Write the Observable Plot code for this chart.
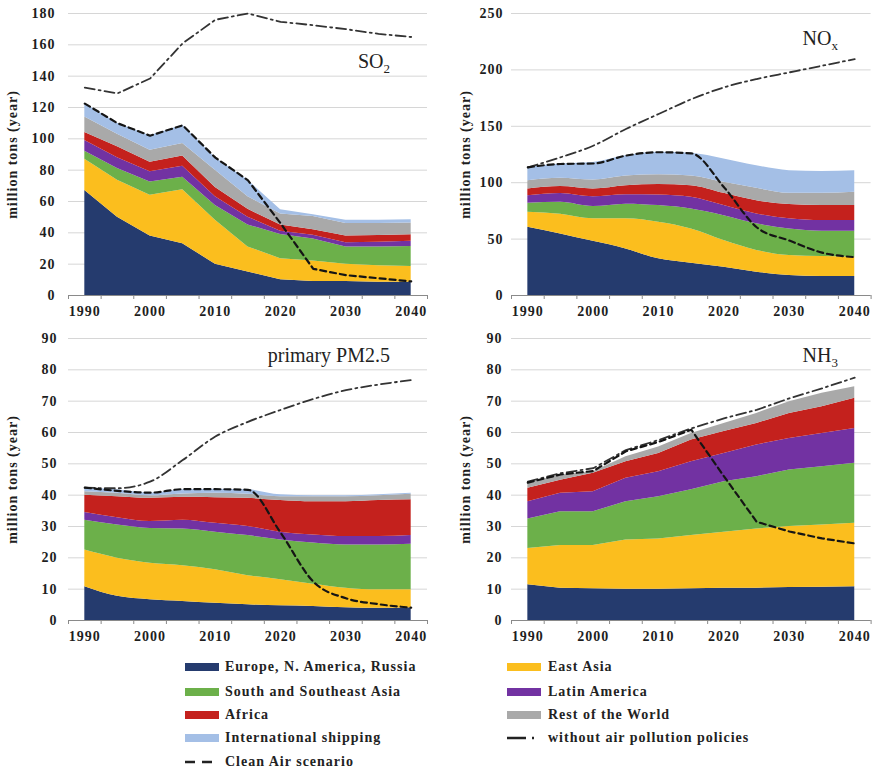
<!DOCTYPE html>
<html>
<head>
<meta charset="utf-8">
<script src="https://cdn.jsdelivr.net/npm/d3@7"></script>
<script src="https://cdn.jsdelivr.net/npm/@observablehq/plot@0.6"></script>
<style>
  body { margin: 0; background: #fff; }
  #chart { position: relative; width: 875px; height: 770px; font-family: "Liberation Serif", "Times New Roman", serif; color: #1e1e1e; }
  .panel { position: absolute; }
  .title { position: absolute; font-size: 20px; line-height: 20px; white-space: nowrap; text-align: right; color: #222; }
  .title sub { font-size: 13px; line-height: 0; vertical-align: -5px; }
  .legend-item { position: absolute; height: 20px; display: flex; align-items: center; font-size: 14px; font-weight: bold; letter-spacing: 1px; color: #222; white-space: nowrap; }
  .sw { position: absolute; height: 8px; width: 34px; }
</style>
</head>
<body>
<div id="chart"></div>
<script>
// Years shown on every panel (5-year steps)
const years = [1990, 1995, 2000, 2005, 2010, 2015, 2020, 2025, 2030, 2035, 2040];
const labelYears = [1990, 2000, 2010, 2020, 2030, 2040];
const tickYears = [1987.5, 1992.5, 1997.5, 2002.5, 2007.5, 2012.5, 2017.5, 2022.5, 2027.5, 2032.5, 2037.5, 2042.5];

// Regions, bottom to top of each stack
const regions = ["Europe, N. America, Russia", "East Asia", "South and Southeast Asia", "Latin America", "Africa", "Rest of the World", "International shipping"];
const regionColors = ["#253b6e", "#fbbe1e", "#6cb04a", "#7232a2", "#c4211d", "#a9a9a9", "#a4bfe6"];

// SO2 emissions, million tons per year
const so2Europe    = [67, 50, 38, 33, 20, 15, 10, 9, 9, 8.5, 8.5];
const so2EastAsia  = [20, 23.5, 26, 34.5, 28, 16, 13.5, 13, 11, 10.5, 10];
const so2SouthAsia = [5, 7.5, 8.5, 8, 9.5, 14, 15.5, 14, 11, 12, 12.8];
const so2LatAm     = [7, 7, 6.5, 7, 5.5, 5, 2, 2.5, 2.7, 3, 3.4];
const so2Africa    = [5, 7, 6, 6.5, 6, 5, 4, 3.5, 4.3, 4.3, 4.1];
const so2Rest      = [10, 8, 7.7, 8, 11, 8, 7, 8.5, 8, 7.7, 7.4];
const so2Shipping  = [8.5, 7, 9.3, 11.6, 8, 10.5, 2.7, 1, 2, 2, 2.2];
const so2Clean     = [122.5, 110, 102, 108.6, 88, 73.5, 46, 17, 13, 11, 9];
const so2NoPolicy  = [132.7, 129, 138.5, 161, 176, 180, 174.7, 172.5, 170, 167, 165];

// NOx emissions
const noxEurope    = [60.5, 54.6, 48, 41.3, 32.5, 28.6, 25, 20.7, 17.7, 16.8, 16.8];
const noxEastAsia  = [13.3, 17.4, 20, 26.7, 32.5, 30.4, 23.7, 19.3, 17.7, 17.7, 17.2];
const noxSouthAsia = [8, 10.6, 10.8, 13, 14.7, 17.7, 22.1, 23.5, 23.6, 22.5, 23];
const noxLatAm     = [6.7, 7.9, 8.8, 8.4, 9.3, 10.3, 8.9, 8.8, 9, 9.4, 9.4];
const noxAfrica    = [6, 6.1, 6.9, 8, 9.3, 10.4, 10.9, 11.7, 12.6, 13.3, 13.3];
const noxRest      = [7.3, 7.4, 7.9, 8.6, 8.7, 8.6, 9.7, 11, 10, 10.9, 11.8];
const noxShipping  = [11.8, 12.6, 15.6, 18, 20, 20, 20.7, 20, 20.1, 19.4, 19.2];
const noxClean     = [113.6, 116.6, 117, 124, 127, 126, 96, 60.5, 48.7, 38, 34];
const noxNoPolicy  = [113.6, 122.5, 132.8, 147.6, 160.9, 174, 184.5, 191.9, 197.8, 203.7, 209.6];

// Primary PM2.5 emissions
const pmEurope    = [10.8, 7.7, 6.6, 6.1, 5.5, 5, 4.7, 4.5, 4.1, 3.9, 4.1];
const pmEastAsia  = [11.7, 12.2, 11.7, 11.4, 10.7, 9.3, 8.3, 7.1, 6.2, 5.9, 5.7];
const pmSouthAsia = [9.5, 10.6, 11.1, 11.7, 12, 12.8, 12.7, 13.1, 13.8, 14.3, 14.5];
const pmLatAm     = [2.5, 2.3, 2.2, 2.8, 2.8, 2.9, 2.5, 2.6, 2.7, 2.7, 2.8];
const pmAfrica    = [5.5, 6.7, 7.4, 7.3, 8.2, 9, 10.1, 10.6, 11.1, 11.5, 11.4];
const pmRest      = [1.1, 1.1, 0.8, 1.1, 1.4, 1.3, 1.2, 1.6, 1.6, 1.5, 1.8];
const pmShipping  = [1.3, 1.1, 0.8, 1.3, 1.3, 1.4, 0.6, 0.3, 0.3, 0.3, 0.3];
const pmClean     = [42.4, 41.4, 40.8, 41.9, 41.9, 41.7, 28, 12.4, 7.1, 5.2, 4.1];
const pmNoPolicy  = [42.4, 42.2, 44.3, 51.2, 58.7, 63.4, 67.2, 70.7, 73.5, 75.3, 76.7];

// NH3 emissions
const nh3Europe    = [11.4, 10.3, 10.1, 10, 10, 10.1, 10.3, 10.3, 10.5, 10.6, 10.8];
const nh3EastAsia  = [11.6, 13.6, 13.8, 15.7, 16, 17, 17.9, 18.9, 19.5, 19.9, 20.2];
const nh3SouthAsia = [9.4, 10.8, 10.8, 12.2, 13.5, 14.6, 16.1, 16.7, 18, 18.6, 19.2];
const nh3LatAm     = [5.5, 5.9, 6.4, 7.5, 8, 9, 9, 10.1, 10.1, 10.6, 11.1];
const nh3Africa    = [4.3, 4.2, 5.9, 5.3, 5.8, 6.9, 7, 6.9, 8, 8.5, 9.6];
const nh3Rest      = [1.6, 1.6, 0.5, 1.6, 2.1, 2.1, 2.6, 3.2, 3.7, 4.3, 3.7];
const nh3Shipping  = [0, 0, 0, 0, 0, 0, 0, 0, 0, 0, 0];
const nh3Clean     = [44, 46.6, 47.7, 54, 57, 60.9, 46, 31.5, 28.4, 26.2, 24.6];
const nh3NoPolicy  = [44.3, 47, 48.6, 54.4, 57.6, 61.3, 64.5, 67.2, 70.9, 74.1, 77.5];

const serif = '"Liberation Serif", "Times New Roman", serif';
const chart = document.getElementById("chart");

function drawPanel({left, top, width, marginLeft, marginRight, series, clean, noPolicy, yMax, yStep, tickPadding, labelOffset, curve, title, titleRight, titleTop}) {
  const data = regions.flatMap((r, i) => years.map((year, j) => ({year, region: r, value: series[i][j]})));
  const lines = years.map((year, j) => ({year, clean: clean[j], noPolicy: noPolicy[j]}));
  const yTicks = d3.range(0, yMax + 1e-9, yStep);

  const svg = Plot.plot({
    width, height: 325,
    marginLeft, marginRight, marginTop: 13, marginBottom: 30,
    style: {fontFamily: serif, fontSize: "14px", fontWeight: "bold", color: "#1e1e1e", background: "transparent", letterSpacing: "1px"},
    x: {domain: [1987.5, 2042.5], label: null},
    y: {domain: [0, yMax], label: null},
    color: {domain: regions, range: regionColors},
    marks: [
      Plot.gridY(yTicks, {stroke: "#d6d6d6", strokeOpacity: 1, strokeWidth: 1}),
      Plot.areaY(data, {x: "year", y: "value", fill: "region", curve}),
      Plot.ruleY([0], {stroke: "#8a8a8a", strokeWidth: 1.2}),
      Plot.axisX(tickYears, {tickSize: 4, tickFormat: () => "", stroke: "#8a8a8a", label: null}),
      Plot.axisX(labelYears, {tickSize: 0, tickPadding: 11, tickFormat: d => String(d), label: null}),
      Plot.axisY(yTicks, {tickSize: 0, tickPadding, label: "million tons (year)", labelAnchor: "center", labelOffset, labelArrow: "none"}),
      Plot.lineY(lines, {x: "year", y: "noPolicy", stroke: "#333", strokeWidth: 1.8, strokeDasharray: "10,4,2,4", curve}),
      Plot.lineY(lines, {x: "year", y: "clean", stroke: "#151515", strokeWidth: 2.2, strokeDasharray: "6,4", curve})
    ]
  });
  const box = document.createElement("div");
  box.className = "panel";
  box.style.left = left + "px";
  box.style.top = top + "px";
  box.appendChild(svg);
  const t = document.createElement("div");
  t.className = "title";
  t.innerHTML = title;
  t.style.right = (width - titleRight) + "px";
  t.style.top = titleTop + "px";
  box.appendChild(t);
  chart.appendChild(box);
}

drawPanel({left: 0, top: 0, width: 440, marginLeft: 68, marginRight: 13,
  series: [so2Europe, so2EastAsia, so2SouthAsia, so2LatAm, so2Africa, so2Rest, so2Shipping],
  clean: so2Clean, noPolicy: so2NoPolicy, yMax: 180, yStep: 20, tickPadding: 13, labelOffset: 61,
  curve: "linear", title: "SO<sub>2</sub>", titleRight: 390, titleTop: 51});

drawPanel({left: 440, top: 0, width: 435, marginLeft: 71, marginRight: 4.4,
  series: [noxEurope, noxEastAsia, noxSouthAsia, noxLatAm, noxAfrica, noxRest, noxShipping],
  clean: noxClean, noPolicy: noxNoPolicy, yMax: 250, yStep: 50, tickPadding: 8, labelOffset: 51,
  curve: "monotone-x", title: "NO<sub>x</sub>", titleRight: 398, titleTop: 28});

drawPanel({left: 0, top: 325, width: 440, marginLeft: 68, marginRight: 13,
  series: [pmEurope, pmEastAsia, pmSouthAsia, pmLatAm, pmAfrica, pmRest, pmShipping],
  clean: pmClean, noPolicy: pmNoPolicy, yMax: 90, yStep: 10, tickPadding: 11, labelOffset: 61,
  curve: "monotone-x", title: "primary PM2.5", titleRight: 390, titleTop: 20});

drawPanel({left: 440, top: 325, width: 435, marginLeft: 71, marginRight: 4.4,
  series: [nh3Europe, nh3EastAsia, nh3SouthAsia, nh3LatAm, nh3Africa, nh3Rest, nh3Shipping],
  clean: nh3Clean, noPolicy: nh3NoPolicy, yMax: 90, yStep: 10, tickPadding: 9, labelOffset: 51,
  curve: "linear", title: "NH<sub>3</sub>", titleRight: 398, titleTop: 20});

// Legend: two columns of swatches and line keys
const legendRows = [667, 692, 715, 738, 762];
const legendItems = [
  {label: regions[0], col: 0, row: 0, fill: regionColors[0]},
  {label: regions[2], col: 0, row: 1, fill: regionColors[2]},
  {label: regions[4], col: 0, row: 2, fill: regionColors[4]},
  {label: regions[6], col: 0, row: 3, fill: regionColors[6]},
  {label: "Clean Air scenario", col: 0, row: 4, dash: "10,7"},
  {label: regions[1], col: 1, row: 0, fill: regionColors[1]},
  {label: regions[3], col: 1, row: 1, fill: regionColors[3]},
  {label: regions[5], col: 1, row: 2, fill: regionColors[5]},
  {label: "without air pollution policies", col: 1, row: 3, dash: "19,6,2,20"}
];
const colSwatch = [185, 507];
const colText = [225, 548];
for (const item of legendItems) {
  const y = legendRows[item.row];
  if (item.fill) {
    const sw = document.createElement("div");
    sw.className = "sw";
    sw.style.left = colSwatch[item.col] + "px";
    sw.style.top = (y - 4) + "px";
    sw.style.background = item.fill;
    chart.appendChild(sw);
  } else {
    const ns = "http://www.w3.org/2000/svg";
    const s = document.createElementNS(ns, "svg");
    s.setAttribute("width", 34);
    s.setAttribute("height", 8);
    s.style.position = "absolute";
    s.style.left = colSwatch[item.col] + "px";
    s.style.top = (y - 4) + "px";
    const l = document.createElementNS(ns, "line");
    l.setAttribute("x1", 0); l.setAttribute("x2", 34);
    l.setAttribute("y1", 4); l.setAttribute("y2", 4);
    l.setAttribute("stroke", "#222");
    l.setAttribute("stroke-width", 2.4);
    l.setAttribute("stroke-dasharray", item.dash);
    s.appendChild(l);
    chart.appendChild(s);
  }
  const t = document.createElement("div");
  t.className = "legend-item";
  t.textContent = item.label;
  t.style.left = colText[item.col] + "px";
  t.style.top = (y - 10) + "px";
  chart.appendChild(t);
}
</script>
</body>
</html>
